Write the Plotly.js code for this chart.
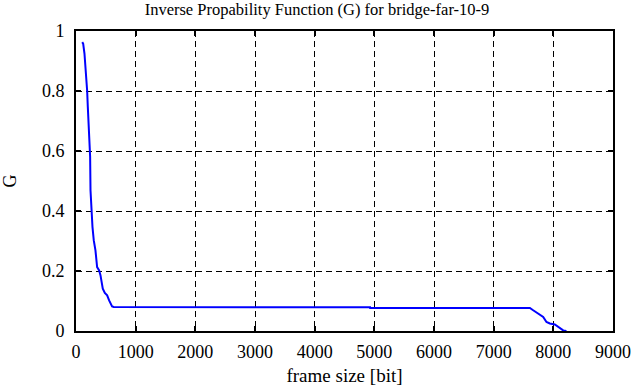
<!DOCTYPE html>
<html>
<head>
<meta charset="utf-8">
<script src="https://cdn.plot.ly/plotly-3.0.1.min.js"></script>
<style>html,body{margin:0;padding:0;background:#fff;}#chart{width:634px;height:387px;}</style>
</head>
<body>
<div id="chart"></div>
<script>
// frame size [bit]
const frameSize = [104, 120, 142, 164, 187, 198, 221, 237, 243, 259, 276, 298, 326, 354, 388, 410, 427, 449, 483, 522, 555, 577, 605, 633, 2569, 2570, 4929, 4930, 7607, 7662, 7718, 7774, 7830, 7885, 7941, 8025, 8081, 8165, 8220];
// G values
const gValues = [0.963, 0.958, 0.925, 0.869, 0.800, 0.747, 0.658, 0.580, 0.469, 0.402, 0.347, 0.302, 0.269, 0.213, 0.202, 0.186, 0.158, 0.141, 0.127, 0.119, 0.102, 0.091, 0.082, 0.080, 0.080, 0.079, 0.079, 0.077, 0.077, 0.069, 0.061, 0.055, 0.047, 0.030, 0.025, 0.022, 0.013, 0.002, 0.0];
const xTicks = [0, 1000, 2000, 3000, 4000, 5000, 6000, 7000, 8000, 9000];
const yTicks = [0, 0.2, 0.4, 0.6, 0.8, 1];
const yTickText = ['0', '0.2', '0.4', '0.6', '0.8', '1'];

const FAM = '"Liberation Serif", serif';

Plotly.newPlot('chart', [{
  x: frameSize, y: gValues, type: 'scatter', mode: 'lines',
  line: {color: '#0000ff', width: 2},
  hoverinfo: 'skip'
}], {
  width: 634, height: 387,
  font: {family: FAM, color: '#000', size: 18},
  margin: {l: 75.5, r: 20.7, t: 30.7, b: 56.3},
  paper_bgcolor: '#fff', plot_bgcolor: '#fff',
  showlegend: false,
  title: {text: 'Inverse Propability Function (G) for bridge-far-10-9', font: {family: FAM, size: 16.5, color: '#000'}, x: 0.5, xanchor: 'center', y: 0.977, yanchor: 'middle'},
  xaxis: {
    range: [0, 9000], tickvals: xTicks, ticktext: xTicks.map(String),
    showgrid: true, gridcolor: '#000', gridwidth: 1, griddash: '6px,4px',
    zeroline: false, showline: true, linecolor: '#000', linewidth: 2, mirror: 'ticks',
    ticks: 'inside', ticklen: 5, tickcolor: '#000', tickwidth: 2,
    ticklabelstandoff: 3,
    tickfont: {family: FAM, size: 18, color: '#000'},
    title: {text: 'frame size [bit]', font: {family: FAM, size: 19, color: '#000'}, standoff: 8}
  },
  yaxis: {
    range: [0, 1], tickvals: yTicks, ticktext: yTickText,
    showgrid: true, gridcolor: '#000', gridwidth: 1, griddash: '6px,4px',
    zeroline: false, showline: true, linecolor: '#000', linewidth: 2, mirror: 'ticks',
    ticks: 'inside', ticklen: 5, tickcolor: '#000', tickwidth: 2,
    ticklabelstandoff: 6,
    tickfont: {family: FAM, size: 18, color: '#000'},
    title: {text: 'G', font: {family: FAM, size: 18, color: '#000'}, standoff: 21}
  }
}, {displayModeBar: false, staticPlot: true});
</script>
</body>
</html>
